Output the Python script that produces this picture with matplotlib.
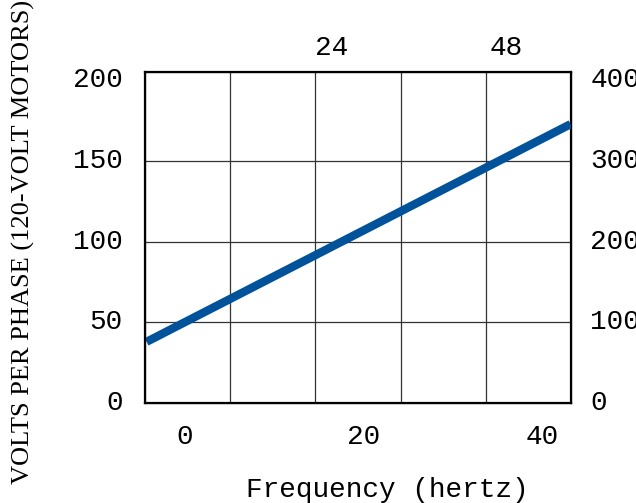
import matplotlib.pyplot as plt
import matplotlib.transforms as mtransforms
import numpy as np

# frequency / voltage line
freq = [-4.3, 43.2]
volts = [37.9, 172.7]

x_ticks = [0, 20, 40]
top_ticks = [24, 48]
y_ticks = [0, 50, 100, 150, 200]
right_ticks = [0, 100, 200, 300, 400]

mono = 'Liberation Mono'
fs = 20

fig = plt.figure(figsize=(6.36, 5.03), dpi=100)
ax = fig.add_axes([145/636, 1-403/503, 426/636, 331/503])

ax.set_xlim(-4.48, 43.25)
ax.set_ylim(0, 205)

# grid: five equal columns, rows at 50-volt steps
xl = ax.get_xlim()
cols = np.linspace(xl[0], xl[1], 6)[1:-1]
ax.vlines(cols, 0, 1, transform=ax.get_xaxis_transform(), color='#333333', lw=0.9, zorder=1)
ax.hlines([50, 100, 150], 0, 1, transform=ax.get_yaxis_transform(), color='#333333', lw=0.9, zorder=1)

ax.plot(freq, volts, color='#00529b', lw=6, solid_capstyle='butt', zorder=3)

ax.set_xticks(x_ticks)
ax.set_yticks(y_ticks)
ax.tick_params(axis='x', length=0, pad=15, labelsize=fs)
ax.tick_params(axis='y', length=0, pad=16, labelsize=fs)
for s in ax.spines.values():
    s.set_linewidth(1.6)

# right-hand scale
axr = ax.twinx()
axr.set_ylim(0, 410)
axr.set_yticks(right_ticks)
axr.tick_params(axis='y', length=0, pad=14, labelsize=fs)

# top scale
axt = ax.twiny()
axt.set_xlim(-1.65, 56.9)
axt.set_xticks(top_ticks)
axt.tick_params(axis='x', length=0, pad=8, labelsize=fs)

# nudge the vertical-scale labels up a little
lift = mtransforms.ScaledTranslation(0, 3/100, fig.dpi_scale_trans)
for lab in ax.get_yticklabels() + axr.get_yticklabels():
    lab.set_transform(lab.get_transform() + lift)
for lab in axr.get_yticklabels():
    lab.set_horizontalalignment('left')
for lab in ax.get_xticklabels() + ax.get_yticklabels() + axr.get_yticklabels() + axt.get_xticklabels():
    lab.set_fontfamily(mono)

fig.text(387/636, 1-490/503, 'Frequency (hertz)', family=mono, fontsize=fs,
         ha='center', va='center')
fig.text(23/636, 1-242/503, 'VOLTS PER PHASE (120-VOLT MOTORS)', family='Liberation Serif',
         fontsize=19, rotation=90, ha='center', va='center')

plt.savefig('out.png', dpi=100)
